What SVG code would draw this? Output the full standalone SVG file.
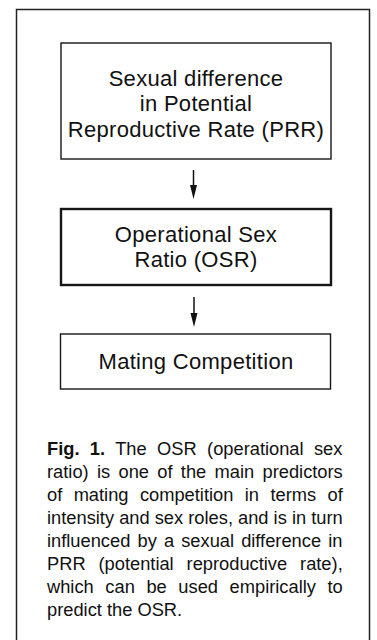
<svg xmlns="http://www.w3.org/2000/svg" width="377" height="640" viewBox="0 0 377 640">
<style>
.box{fill:none;stroke:#161616;stroke-width:1.4}
.thick{stroke-width:2.4}
.frame{fill:none;stroke:#222;stroke-width:1.5}
.lbl{font-family:"Liberation Sans",Arial,sans-serif;font-size:22px;letter-spacing:0.3px;fill:#111;text-anchor:middle}
.cap{font-family:"Liberation Sans",Arial,sans-serif;font-size:18.3px;fill:#111}
.conn{stroke:#111;stroke-width:1.5;fill:none}
</style>
<rect width="377" height="640" fill="#fff"/>
<path class="frame" d="M16.5,640 V9.5 H369.5 V640"/>
<g id="node-prr">
<rect class="box" x="61" y="43" width="270" height="116"/>
<text class="lbl" x="196" y="86">Sexual difference</text>
<text class="lbl" x="196" y="111">in Potential</text>
<text class="lbl" x="196" y="137">Reproductive Rate (PRR)</text>
</g>
<g id="node-osr">
<rect class="box thick" x="61" y="209" width="270" height="76"/>
<text class="lbl" x="196" y="242">Operational Sex</text>
<text class="lbl" x="196" y="267">Ratio (OSR)</text>
</g>
<g id="node-mating">
<rect class="box" x="60.5" y="334" width="270" height="55"/>
<text class="lbl" x="196" y="369">Mating Competition</text>
</g>
<g id="connectors">
<line class="conn" x1="193.5" y1="170" x2="193.5" y2="186"/>
<path d="M190,185 L197,185 L193.5,199 Z" fill="#111"/>
<line class="conn" x1="194" y1="297" x2="194" y2="314"/>
<path d="M190.5,313 L197.5,313 L194,327 Z" fill="#111"/>
</g>
<g id="caption" class="cap">
<text x="47" y="455" word-spacing="5.3"><tspan font-weight="bold">Fig. 1.</tspan> The OSR (operational sex</text>
<text x="47" y="478" word-spacing="3.23">ratio) is one of the main predictors</text>
<text x="47" y="501" word-spacing="6.32">of mating competition in terms of</text>
<text x="47" y="524" word-spacing="0">intensity and sex roles, and is in turn</text>
<text x="47" y="547" word-spacing="2.04">influenced by a sexual difference in</text>
<text x="47" y="570" word-spacing="7.8">PRR (potential reproductive rate),</text>
<text x="47" y="593" word-spacing="6.52">which can be used empirically to</text>
<text x="47" y="616">predict the OSR.</text>
</g>
</svg>
